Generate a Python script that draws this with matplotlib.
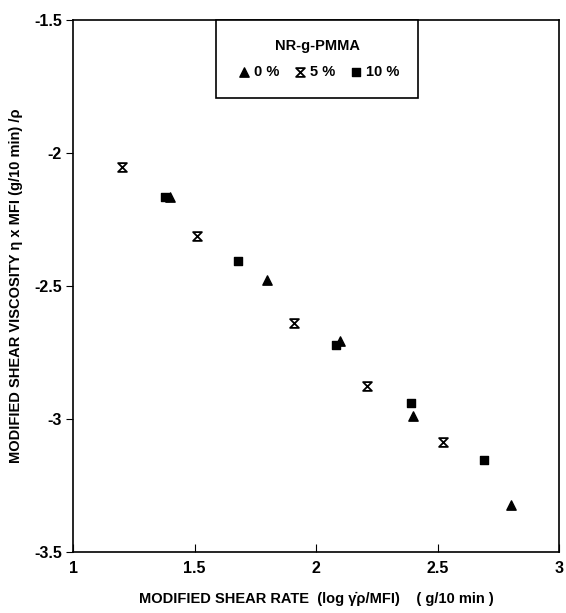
import numpy as np
import matplotlib.pyplot as plt
from matplotlib.path import Path

plt.rcParams['font.family'] = ['Liberation Sans', 'DejaVu Sans']
plt.rcParams['font.weight'] = 'bold'

# NR-g-PMMA, 0 %
x0 = [1.40, 1.80, 2.10, 2.40, 2.80]
y0 = [-2.165, -2.477, -2.707, -2.99, -3.323]
# 5 %
x5 = [1.20, 1.51, 1.91, 2.21, 2.52]
y5 = [-2.053, -2.312, -2.639, -2.876, -3.086]
# 10 %
x10 = [1.38, 1.68, 2.08, 2.39, 2.69]
y10 = [-2.165, -2.406, -2.722, -2.94, -3.154]

labels = ['0 %', '5 %', '10 %']

hourglass = Path([(-1, 1), (1, 1), (-1, -1), (1, -1), (-1, 1)],
                 [Path.MOVETO, Path.LINETO, Path.LINETO, Path.LINETO, Path.CLOSEPOLY])

fig = plt.figure(figsize=(5.66, 6.13), dpi=100)
ax = fig.add_axes([0.129, 0.099, 0.859, 0.869])

ax.scatter(x0, y0, marker='^', s=45, color='black', label=labels[0])
ax.scatter(x5, y5, marker=hourglass, s=40, facecolor='white', edgecolor='black',
           linewidths=1.3, label=labels[1])
ax.scatter(x10, y10, marker='s', s=28, color='black', label=labels[2])

ax.set_xlim(1, 3)
ax.set_ylim(-3.5, -1.5)
ax.set_xticks([1, 1.5, 2, 2.5, 3])
ax.set_xticklabels(['1', '1.5', '2', '2.5', '3'])
ax.set_yticks([-3.5, -3, -2.5, -2, -1.5])
ax.set_yticklabels(['-3.5', '-3', '-2.5', '-2', '-1.5'])
ax.tick_params(axis='x', direction='in', length=6, labelsize=11.5, pad=6)
ax.tick_params(axis='y', direction='out', length=5, labelsize=11.5, pad=3)
for sp in ax.spines.values():
    sp.set_linewidth(1.2)

ax.set_xlabel('MODIFIED SHEAR RATE  (log \u03b3\u0307\u03c1/MFI)    ( g/10 min )',
              fontsize=10.5, fontweight='bold', labelpad=12)
ax.set_ylabel('MODIFIED SHEAR VISCOSITY \u03b7 x MFI (g/10 min) /\u03c1',
              fontsize=10.5, fontweight='bold', labelpad=8)

leg = ax.legend(loc='upper left', bbox_to_anchor=(0.294, 1.0), ncol=3,
                title='NR-g-PMMA', fontsize=10.5, title_fontsize=10.5,
                fancybox=False, edgecolor='black', framealpha=1,
                handletextpad=0.1, columnspacing=0.8, borderpad=1.3,
                handlelength=1.2, borderaxespad=0)
leg._legend_box.sep = 9
leg.get_frame().set_linewidth(1.2)
leg.get_title().set_fontweight('bold')

fig.savefig('out.png', dpi=100)
